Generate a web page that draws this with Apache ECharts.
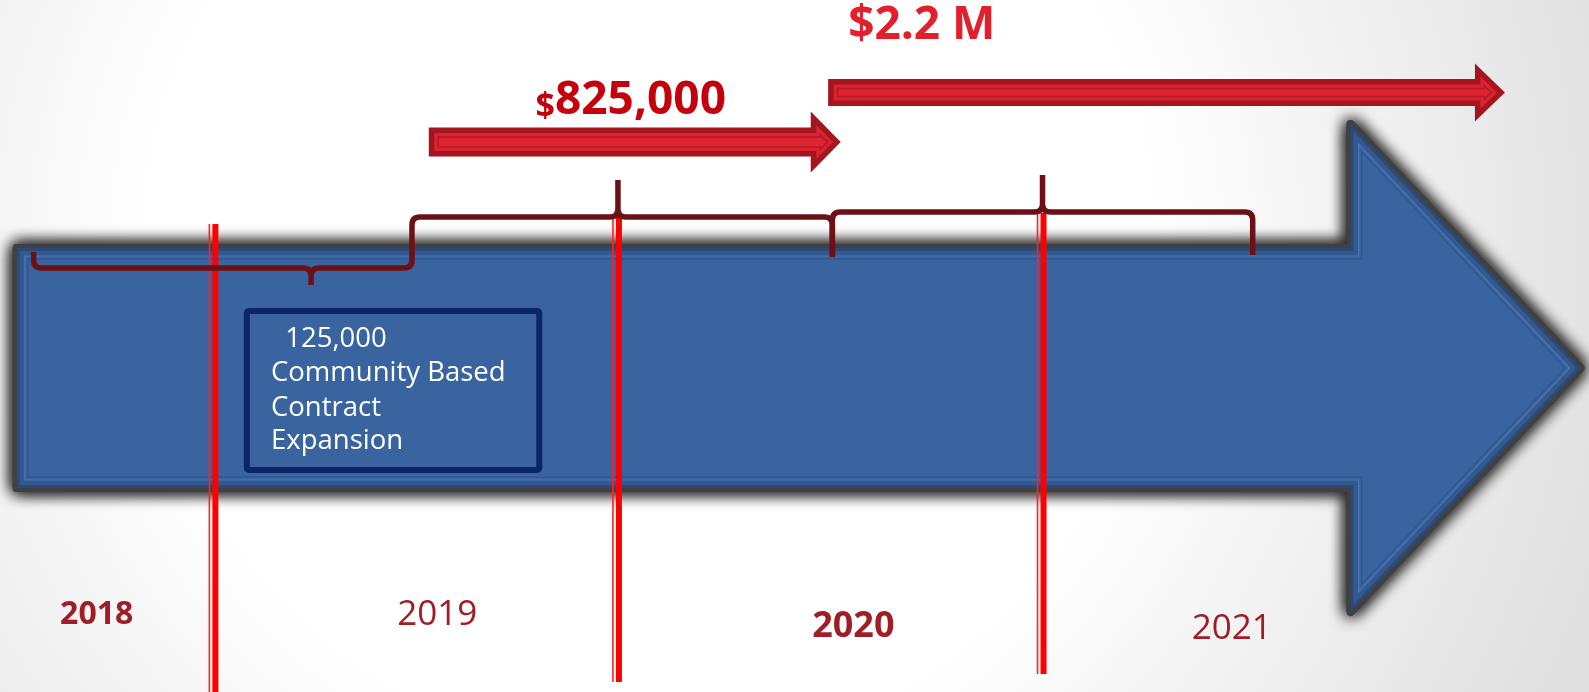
<!DOCTYPE html>
<html>
<head>
<meta charset="utf-8">
<script src="https://cdn.jsdelivr.net/npm/echarts@6/dist/echarts.min.js"></script>
<style>
  html, body { margin: 0; padding: 0; overflow: hidden; }
  #chart { width: 1589px; height: 692px; }
</style>
</head>
<body>
<div id="chart"></div>
<script>
// ---- Data -------------------------------------------------------------
// Year captions under the timeline
const yearLabels = ['2018', '2019', '2020', '2021'];
const yearLabelAt = [2018.25, 2019.06, 2020.05, 2020.95];
const yearLabelBold = [true, false, true, false];

// Funding periods drawn as braces along the timeline
const periodStart = [2018.1, 2019.0, 2020.0];
const periodEnd = [2019.0, 2020.0, 2021.0];
const periodPeak = [2018.76, 2019.49, 2020.5];

// Milestone markers (red vertical rules)
const milestones = [2018.53, 2019.49, 2020.5];

// Funding arrows and their amounts
const fundingStart = [2019.04, 2019.99];
const fundingEnd = [2020.02, 2021.6];
const fundingCurrency = ['$', '$'];
const fundingAmount = ['825,000', '2.2 M'];

// Note box on the timeline
const noteLines = ['  125,000', 'Community Based', 'Contract', 'Expansion'];
const noteSpan = [2018.6, 2019.31];

// Extent of the big timeline arrow
const timelineSpan = [2018.06, 2021.78];

// ---- Layout (pixels on the vertical layout axis) ----------------------
const L = {
  xMin: 2018.02, xMax: 2021.8, yMax: 692,
  arrow: { cy: 368, bodyHalf: 120, headHalf: 244, headLen: 230 },
  brace: { level: [268, 217, 212], hook: [-16, 40, 43], peak: [17, -37, -37], radius: 8, width: 5.5 },
  marker: { top: [224, 215, 213], bottom: [692, 682, 674] },
  fund: { cy: [142, 92.5], body: [29, 27], head: [61, 58], headLen: 30, labelY: [99, 26] },
  note: { top: 308, bottom: 473, textX: 271, lineY: [339, 373, 408, 441] },
  yearY: [615, 615, 627, 629],
  yearSize: [32, 35, 36, 35]
};

const FONT = '"Open Sans", "Liberation Sans", sans-serif';
const YEAR_COLOR = '#A01C26';
const BRACE_COLOR = '#6B1015';

// Inward offset of a simple polygon by dist pixels
function insetPolygon(pts, dist) {
  const n = pts.length;
  let area = 0;
  for (let i = 0; i < n; i++) {
    const p = pts[i], q = pts[(i + 1) % n];
    area += p[0] * q[1] - q[0] * p[1];
  }
  const s = area > 0 ? 1 : -1;
  const lines = [];
  for (let i = 0; i < n; i++) {
    const p = pts[i], q = pts[(i + 1) % n];
    let dx = q[0] - p[0], dy = q[1] - p[1];
    const len = Math.hypot(dx, dy);
    dx /= len; dy /= len;
    const nx = -dy * s, ny = dx * s;
    lines.push({ p: [p[0] + nx * dist, p[1] + ny * dist], d: [dx, dy] });
  }
  const out = [];
  for (let i = 0; i < n; i++) {
    const a = lines[(i - 1 + n) % n], b = lines[i];
    const cross = a.d[0] * b.d[1] - a.d[1] * b.d[0];
    const wx = b.p[0] - a.p[0], wy = b.p[1] - a.p[1];
    const t = (wx * b.d[1] - wy * b.d[0]) / cross;
    out.push([a.p[0] + a.d[0] * t, a.p[1] + a.d[1] * t]);
  }
  return out;
}

function arrowPoints(xs, xt, cy, bodyH, headH, headLen) {
  const xh = xt - headLen;
  return [
    [xs, cy - bodyH / 2], [xh, cy - bodyH / 2], [xh, cy - headH / 2],
    [xt, cy], [xh, cy + headH / 2], [xh, cy + bodyH / 2], [xs, cy + bodyH / 2]
  ];
}

const px = (api, x) => api.coord([x, 0])[0];
const py = (api, y) => api.coord([L.xMin, y])[1];

// Big blue timeline arrow with its dark glow
function renderTimeline(params, api) {
  const xs = px(api, api.value(0));
  const xt = px(api, api.value(1));
  const a = L.arrow;
  const cy = py(api, a.cy);
  const pts = arrowPoints(xs, xt, cy, a.bodyHalf * 2, a.headHalf * 2, a.headLen);
  const glow = {
    type: 'polygon', shape: { points: pts },
    style: { fill: '#404040', stroke: '#404040', lineWidth: 8, lineJoin: 'round',
             shadowBlur: 16, shadowColor: 'rgba(40,40,40,1)' }
  };
  return {
    type: 'group',
    children: [
      glow,
      Object.assign({}, glow),
      { type: 'polygon', shape: { points: pts },
        style: { fill: '#2B4A7C' } },
      { type: 'polygon', shape: { points: insetPolygon(pts, 3) },
        style: { fill: '#33598F' } },
      { type: 'polygon', shape: { points: insetPolygon(pts, 8) },
        style: { fill: '#3A64A0', stroke: '#4B77B3', lineWidth: 1.2 } },
      { type: 'polygon', shape: { points: insetPolygon(pts, 11) },
        style: { fill: '#3A64A0', stroke: '#30578F', lineWidth: 1.5 } }
    ]
  };
}

// Red milestone rules
function renderMilestone(params, api) {
  const i = params.dataIndex;
  const x = px(api, api.value(0));
  const y0 = py(api, L.marker.top[i]);
  const y1 = py(api, L.marker.bottom[i]);
  return {
    type: 'group',
    children: [
      { type: 'line', shape: { x1: x - 5, y1: y0, x2: x - 5, y2: y1 },
        style: { stroke: '#FF1F1F', lineWidth: 1.6 } },
      { type: 'line', shape: { x1: x + 1, y1: y0, x2: x + 1, y2: y1 },
        style: { stroke: '#FF0000', lineWidth: 6 } }
    ]
  };
}

// Curly braces marking each funding period
function renderBrace(params, api) {
  const i = params.dataIndex;
  const a = px(api, api.value(0));
  const b = px(api, api.value(1));
  const t = px(api, api.value(2));
  const B = L.brace;
  const y0 = py(api, B.level[i]);
  const h = B.hook[i], p = B.peak[i], r = B.radius;
  const sh = Math.sign(h), sp = Math.sign(p);
  const d = [
    'M', a, y0 + h, 'L', a, y0 + sh * r, 'Q', a, y0, a + r, y0,
    'L', t - r, y0, 'Q', t, y0, t, y0 + sp * r, 'L', t, y0 + p,
    'M', t, y0 + sp * r, 'Q', t, y0, t + r, y0,
    'L', b - r, y0, 'Q', b, y0, b, y0 + sh * r, 'L', b, y0 + h
  ].join(' ');
  return {
    type: 'path',
    shape: { pathData: d },
    style: { fill: null, stroke: BRACE_COLOR, lineWidth: B.width, lineJoin: 'round' }
  };
}

// Note box with its text
function renderNote(params, api) {
  const x0 = px(api, api.value(0));
  const x1 = px(api, api.value(1));
  const N = L.note;
  const y0 = py(api, N.top), y1 = py(api, N.bottom);
  const children = [
    { type: 'rect', shape: { x: x0 + 3, y: y0 + 3, width: x1 - x0 - 6, height: y1 - y0 - 6, r: 2 },
      style: { fill: '#3A64A0', stroke: '#0B2566', lineWidth: 6 } }
  ];
  noteLines.forEach((line, k) => {
    children.push({
      type: 'text',
      style: { text: line, x: N.textX, y: py(api, N.lineY[k]), fill: '#ffffff',
               fontFamily: FONT, fontSize: 27.5, align: 'left', verticalAlign: 'middle' }
    });
  });
  return { type: 'group', children };
}

// Red funding arrows with their amounts
function renderFunding(params, api) {
  const i = params.dataIndex;
  const xs = px(api, api.value(0));
  const xt = px(api, api.value(1));
  const F = L.fund;
  const cy = py(api, F.cy[i]);
  const pts = arrowPoints(xs, xt, cy, F.body[i], F.head[i], F.headLen);
  const children = [
    { type: 'polygon', shape: { points: pts }, style: { fill: '#A3151F' } },
    { type: 'polygon', shape: { points: insetPolygon(pts, 5.5) }, style: { fill: '#DA2230' } },
    { type: 'polygon', shape: { points: insetPolygon(pts, 9.5) },
      style: { fill: '#DF2431', stroke: '#B41A25', lineWidth: 1.6 } }
  ];
  const ly = py(api, F.labelY[i]);
  if (i === 0) {
    children.push({
      type: 'text',
      style: {
        text: '{c|' + fundingCurrency[i] + '}{v|' + fundingAmount[i] + '}',
        x: (xs + xt) / 2 - 4, y: ly, align: 'center', verticalAlign: 'middle',
        rich: {
          c: { fontFamily: FONT, fontWeight: 'bold', fontSize: 34, fill: '#C4000C', verticalAlign: 'bottom', lineHeight: 50 },
          v: { fontFamily: FONT, fontWeight: 'bold', fontSize: 46, fill: '#C4000C', verticalAlign: 'bottom', lineHeight: 50 }
        }
      }
    });
  } else {
    children.push({
      type: 'text',
      style: {
        text: fundingCurrency[i] + fundingAmount[i], x: xs + 20, y: ly,
        align: 'left', verticalAlign: 'middle',
        fontFamily: FONT, fontWeight: 'bold', fontSize: 46, fill: '#E21F2D'
      }
    });
  }
  return { type: 'group', children };
}

// Year captions
function renderYear(params, api) {
  const i = params.dataIndex;
  return {
    type: 'text',
    style: {
      text: yearLabels[i], x: px(api, api.value(0)), y: py(api, L.yearY[i]),
      align: 'center', verticalAlign: 'middle', fill: YEAR_COLOR,
      fontFamily: FONT, fontSize: L.yearSize[i], fontWeight: yearLabelBold[i] ? 'bold' : 'normal'
    }
  };
}

const chart = echarts.init(document.getElementById('chart'), null, { renderer: 'canvas' });
const base = { type: 'custom', silent: true, animation: false, clip: false };

chart.setOption({
  animation: false,
  backgroundColor: {
    type: 'radial', x: 650, y: 250, r: 1000, global: true,
    colorStops: [
      { offset: 0, color: '#ffffff' },
      { offset: 0.5, color: '#ffffff' },
      { offset: 1, color: '#e0e0e0' }
    ]
  },
  grid: { left: 0, right: 0, top: 0, bottom: 0 },
  xAxis: { type: 'value', min: L.xMin, max: L.xMax, show: false },
  yAxis: { type: 'value', min: 0, max: L.yMax, inverse: true, show: false },
  series: [
    Object.assign({}, base, { name: 'Timeline', renderItem: renderTimeline, data: [[timelineSpan[0], timelineSpan[1]]] }),
    Object.assign({}, base, { name: 'Note', renderItem: renderNote, data: [[noteSpan[0], noteSpan[1]]] }),
    Object.assign({}, base, { name: 'Milestones', renderItem: renderMilestone, data: milestones.map(v => [v]) }),
    Object.assign({}, base, { name: 'Periods', renderItem: renderBrace,
      data: periodStart.map((s, i) => [s, periodEnd[i], periodPeak[i]]) }),
    Object.assign({}, base, { name: 'Funding', renderItem: renderFunding,
      data: fundingStart.map((s, i) => [s, fundingEnd[i]]) }),
    Object.assign({}, base, { name: 'Years', renderItem: renderYear, data: yearLabelAt.map(v => [v]) })
  ]
});
</script>
</body>
</html>
